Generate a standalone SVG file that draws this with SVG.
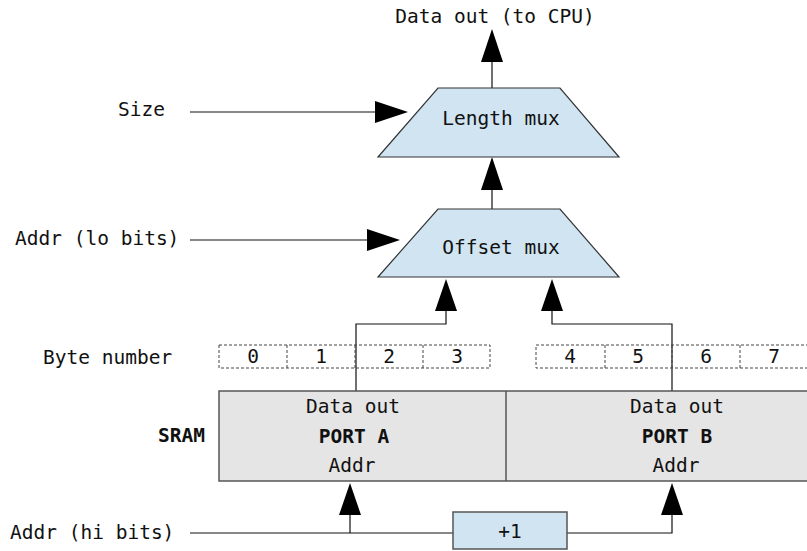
<svg xmlns="http://www.w3.org/2000/svg" width="807" height="551" viewBox="0 0 807 551">
  <style>
    text { font-family: "DejaVu Sans Mono", "Liberation Mono", monospace; font-size: 19.5px; fill: #111; }
    .c { text-anchor: middle; }
    .b { font-weight: bold; }
    .mux { fill: #d0e4f2; stroke: #333; stroke-width: 1.2; }
    .sram { fill: #e5e5e5; stroke: #555; stroke-width: 1.5; }
    .inc { fill: #d0e4f2; stroke: #555; stroke-width: 1.5; }
    .byte { fill: none; stroke: #444; stroke-width: 1; stroke-dasharray: 3 2; }
    .wire { fill: none; stroke: #111; stroke-width: 1.2; }
    .head { fill: #000; }
  </style>

  <!-- connectors -->
  <g id="connectors">
    <!-- length mux output -->
    <line class="wire" x1="492" y1="88" x2="492" y2="60"/>
    <polygon class="head" points="492,29 481,62 503,62"/>
    <!-- size select -->
    <line class="wire" x1="190" y1="112" x2="377" y2="112"/>
    <polygon class="head" points="408,112 375,101 375,123"/>
    <!-- offset mux to length mux -->
    <line class="wire" x1="492" y1="209" x2="492" y2="188"/>
    <polygon class="head" points="492,157 481,190 503,190"/>
    <!-- lo address bits -->
    <line class="wire" x1="190" y1="240" x2="369" y2="240" stroke="#666"/>
    <polygon class="head" points="400,240 367,229 367,251"/>
    <!-- port A data to offset mux -->
    <polyline class="wire" points="356,391 356,324 446,324 446,309"/>
    <polygon class="head" points="446,279 435,311 457,311"/>
    <!-- port B data to offset mux -->
    <polyline class="wire" points="672,391 672,324 552,324 552,309"/>
    <polygon class="head" points="552,279 541,311 563,311"/>
    <!-- hi address bits to port A and incrementer -->
    <line class="wire" x1="190" y1="533" x2="453" y2="533"/>
    <line class="wire" x1="350" y1="533" x2="350" y2="513"/>
    <polygon class="head" points="350,483 339,515 361,515"/>
    <!-- incrementer to port B -->
    <polyline class="wire" points="567,533 672,533 672,513"/>
    <polygon class="head" points="672,483 661,515 683,515"/>
  </g>

  <!-- output label -->
  <g id="cpu-out">
    <text class="c" x="495" y="23">Data out (to CPU)</text>
  </g>

  <g id="size-in">
    <text x="118" y="116">Size</text>
  </g>

  <g id="length-mux">
    <polygon class="mux" points="438,88 560,88 619,157 378,157"/>
    <text class="c" x="501" y="125">Length mux</text>
  </g>

  <g id="addr-lo">
    <text x="15" y="245">Addr (lo bits)</text>
  </g>

  <g id="offset-mux">
    <polygon class="mux" points="438,209 560,209 619,277 378,277"/>
    <text class="c" x="501" y="254">Offset mux</text>
  </g>

  <!-- byte lanes -->
  <g id="byte-lanes">
    <text x="43" y="364">Byte number</text>
    <rect class="byte" x="219" y="345" width="271" height="23"/>
    <line class="byte" x1="287" y1="345" x2="287" y2="368"/>
    <line class="byte" x1="355" y1="345" x2="355" y2="368"/>
    <line class="byte" x1="423" y1="345" x2="423" y2="368"/>
    <rect class="byte" x="536" y="345" width="272" height="23"/>
    <line class="byte" x1="605" y1="345" x2="605" y2="368"/>
    <line class="byte" x1="672" y1="345" x2="672" y2="368"/>
    <line class="byte" x1="740" y1="345" x2="740" y2="368"/>
    <text class="c" x="253" y="363">0</text>
    <text class="c" x="321" y="363">1</text>
    <text class="c" x="389" y="363">2</text>
    <text class="c" x="457" y="363">3</text>
    <text class="c" x="570" y="363">4</text>
    <text class="c" x="638" y="363">5</text>
    <text class="c" x="706" y="363">6</text>
    <text class="c" x="774" y="363">7</text>
  </g>

  <!-- dual-port SRAM -->
  <g id="sram">
    <text class="b" x="158" y="442">SRAM</text>
    <rect class="sram" x="219" y="391" width="600" height="90"/>
    <line class="sram" x1="506" y1="391" x2="506" y2="481"/>
  </g>

  <g id="port-a">
    <text class="c" x="353" y="413">Data out</text>
    <text class="c b" x="354" y="443">PORT A</text>
    <text class="c" x="352" y="472">Addr</text>
  </g>

  <g id="port-b">
    <text class="c" x="677" y="413">Data out</text>
    <text class="c b" x="677" y="443">PORT B</text>
    <text class="c" x="676" y="472">Addr</text>
  </g>

  <g id="addr-hi">
    <text x="10" y="539">Addr (hi bits)</text>
  </g>

  <g id="incrementer">
    <rect class="inc" x="453" y="512" width="114" height="37"/>
    <text class="c" x="510" y="538">+1</text>
  </g>
</svg>
